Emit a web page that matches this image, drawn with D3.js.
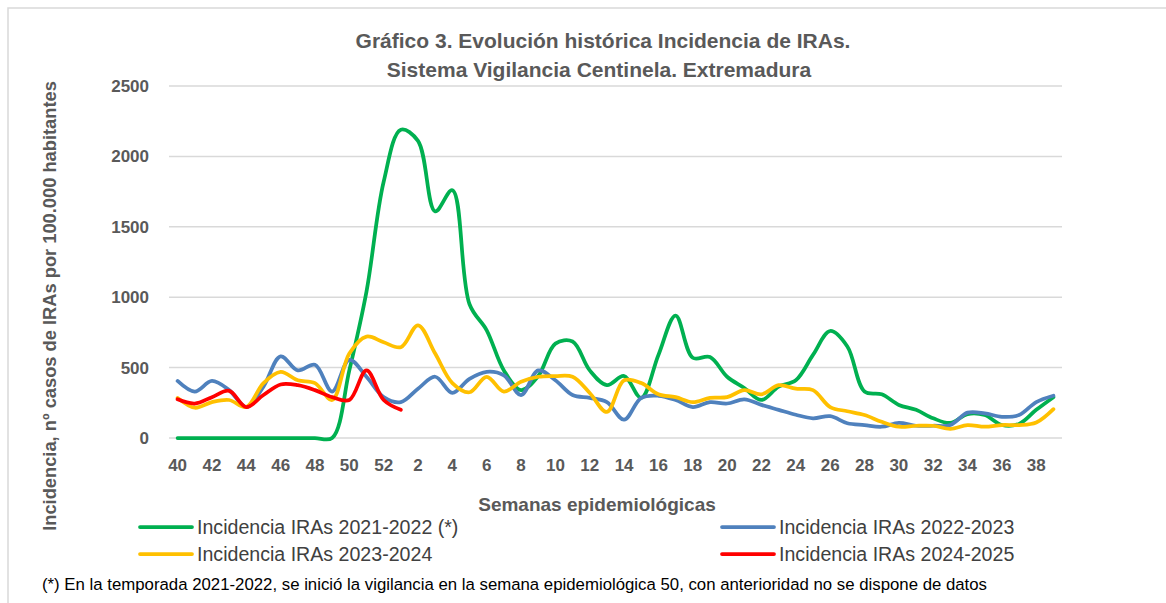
<!DOCTYPE html>
<html>
<head>
<meta charset="utf-8">
<script src="https://cdn.jsdelivr.net/npm/d3@7"></script>
<style>
  body { margin: 0; background: #fff; }
  svg { display: block; }
  text { font-family: "Liberation Sans", Arial, sans-serif; }
</style>
</head>
<body>
<div class="chart"></div>
<script>
// semanas epidemiológicas (temporada 40 -> 39)
const weeks = [40, 41, 42, 43, 44, 45, 46, 47, 48, 49, 50, 51, 52,
    1, 2, 3, 4, 5, 6, 7, 8, 9, 10, 11, 12, 13, 14, 15, 16, 17, 18, 19, 20,
    21, 22, 23, 24, 25, 26, 27, 28, 29, 30, 31, 32, 33, 34, 35, 36, 37, 38, 39]
const weekTicks = [40, 42, 44, 46, 48, 50, 52, 2, 4, 6, 8, 10, 12, 14, 16, 18, 20,
    22, 24, 26, 28, 30, 32, 34, 36, 38]
const yTicks = [0, 500, 1000, 1500, 2000, 2500]

const s2122 = [0, 0, 0, 0, 0, 0, 0, 0, 0, 0, 480, 1040, 1820,
    2190, 2110, 1610, 1760, 950, 765, 480, 340, 440, 670, 685, 480, 375, 440, 285, 590, 870, 570, 575, 435,
    355, 270, 365, 410, 590, 760, 650, 330, 310, 235, 200, 140, 107, 170, 163, 92, 100, 200, 290]
const s2223 = [405, 330, 405, 340, 220, 365, 580, 480, 520, 330, 555, 435, 290,
    255, 350, 435, 320, 420, 470, 445, 305, 480, 410, 305, 285, 255, 130, 285, 300, 270, 220, 255, 245,
    275, 235, 200, 165, 140, 155, 105, 92, 80, 107, 87, 87, 92, 180, 175, 150, 163, 255, 300]
const s2324 = [285, 215, 255, 270, 220, 390, 470, 410, 390, 270, 600, 720, 680,
    645, 800, 600, 390, 325, 435, 330, 400, 435, 440, 435, 320, 185, 410, 390, 310, 290, 255, 285, 290,
    340, 310, 375, 350, 340, 220, 190, 163, 115, 80, 87, 87, 65, 92, 80, 92, 92, 110, 205]
const s2425 = [275, 245, 290, 335, 220, 305, 380, 375, 340, 290, 270, 480, 270, 200]

const seriesNames = ['Incidencia IRAs 2021-2022 (*)', 'Incidencia IRAs 2022-2023',
    'Incidencia IRAs 2023-2024', 'Incidencia IRAs 2024-2025']
const seriesColors = ['#00B050', '#4F81BD', '#FFC000', '#FF0000']
const seriesValues = [s2122, s2223, s2324, s2425]

const W = 1166, H = 603
const svg = d3.select('.chart').append('svg')
    .attr('width', W)
    .attr('height', H)

// marco del gráfico
svg.append('rect')
    .attr('x', 8).attr('y', 8)
    .attr('width', W + 10).attr('height', H + 10)
    .attr('fill', 'none')
    .attr('stroke', '#D9D9D9')
    .attr('stroke-width', 1.5)

const plot = { left: 169, right: 1062, top: 86, bottom: 438 }

// eje de categorías: cada semana ocupa una banda, el punto va al centro
const x = d3.scaleBand()
    .domain(d3.range(weeks.length))
    .range([plot.left, plot.right])
const xc = i => x(i) + x.bandwidth() / 2

const y = d3.scaleLinear()
    .domain([0, 2500])
    .range([plot.bottom, plot.top])

// rejilla horizontal
svg.append('g')
    .selectAll('line')
    .data(yTicks)
    .enter()
    .append('line')
    .attr('x1', plot.left).attr('x2', plot.right)
    .attr('y1', d => y(d)).attr('y2', d => y(d))
    .attr('stroke', '#D9D9D9')
    .attr('stroke-width', 1.5)

// etiquetas eje Y
const yAxis = svg.append('g')
    .attr('transform', `translate(${plot.left - 20}, 0)`)
    .call(d3.axisLeft(y).tickValues(yTicks).tickFormat(d3.format('d')).tickSize(0).tickPadding(0))
yAxis.select('.domain').remove()
yAxis.selectAll('text')
    .attr('font-size', '17px')
    .attr('font-weight', 'bold')
    .attr('fill', '#595959')
    .style('font-family', '"Liberation Sans", Arial, sans-serif')

// etiquetas eje X
const tickIdx = weekTicks.map(w => weeks.indexOf(w))
const xAxis = svg.append('g')
    .attr('transform', `translate(0, ${plot.bottom + 21})`)
    .call(d3.axisBottom(x).tickValues(tickIdx).tickFormat(i => weeks[i]).tickSize(0).tickPadding(0))
xAxis.select('.domain').remove()
xAxis.selectAll('text')
    .attr('font-size', '17px')
    .attr('font-weight', 'bold')
    .attr('fill', '#595959')
    .style('font-family', '"Liberation Sans", Arial, sans-serif')

// líneas suavizadas
const line = d3.line()
    .x((d, i) => xc(i))
    .y(d => y(d))
    .curve(d3.curveCatmullRom.alpha(0.5))

svg.append('g')
    .selectAll('path')
    .data(seriesValues)
    .enter()
    .append('path')
    .attr('d', d => line(d))
    .attr('fill', 'none')
    .attr('stroke', (d, i) => seriesColors[i])
    .attr('stroke-width', 3.75)
    .attr('stroke-linejoin', 'round')
    .attr('stroke-linecap', 'round')

// títulos
const title = svg.append('text')
    .attr('text-anchor', 'middle')
    .attr('font-size', '21px')
    .attr('font-weight', 'bold')
    .attr('fill', '#595959')
title.append('tspan').attr('x', 603).attr('y', 48).text('Gráfico 3. Evolución histórica Incidencia de IRAs.')
title.append('tspan').attr('x', 599).attr('y', 77).text('Sistema Vigilancia Centinela. Extremadura')

svg.append('text')
    .attr('transform', 'translate(56, 306) rotate(-90)')
    .attr('text-anchor', 'middle')
    .attr('font-size', '18.3px')
    .attr('font-weight', 'bold')
    .attr('fill', '#595959')
    .text('Incidencia, nº casos de IRAs por 100.000 habitantes')

svg.append('text')
    .attr('x', 597).attr('y', 511)
    .attr('text-anchor', 'middle')
    .attr('font-size', '19px')
    .attr('font-weight', 'bold')
    .attr('fill', '#595959')
    .text('Semanas epidemiológicas')

// leyenda
const legend = svg.append('g')
    .selectAll('g')
    .data(seriesNames)
    .enter()
    .append('g')
    .attr('transform', (d, i) => `translate(${i % 2 ? 722 : 140}, ${i < 2 ? 527 : 554})`)
legend.append('line')
    .attr('x1', 0).attr('x2', 52)
    .attr('stroke', (d, i) => seriesColors[i])
    .attr('stroke-width', 3.75)
    .attr('stroke-linecap', 'round')
legend.append('text')
    .attr('x', 57).attr('y', 7)
    .attr('font-size', '19.6px')
    .attr('fill', '#404040')
    .text(d => d)

// nota al pie
svg.append('text')
    .attr('x', 42).attr('y', 590)
    .attr('font-size', '16.8px')
    .attr('fill', '#000')
    .text('(*) En la temporada 2021-2022, se inició la vigilancia en la semana epidemiológica 50, con anterioridad no se dispone de datos')
</script>
</body>
</html>
